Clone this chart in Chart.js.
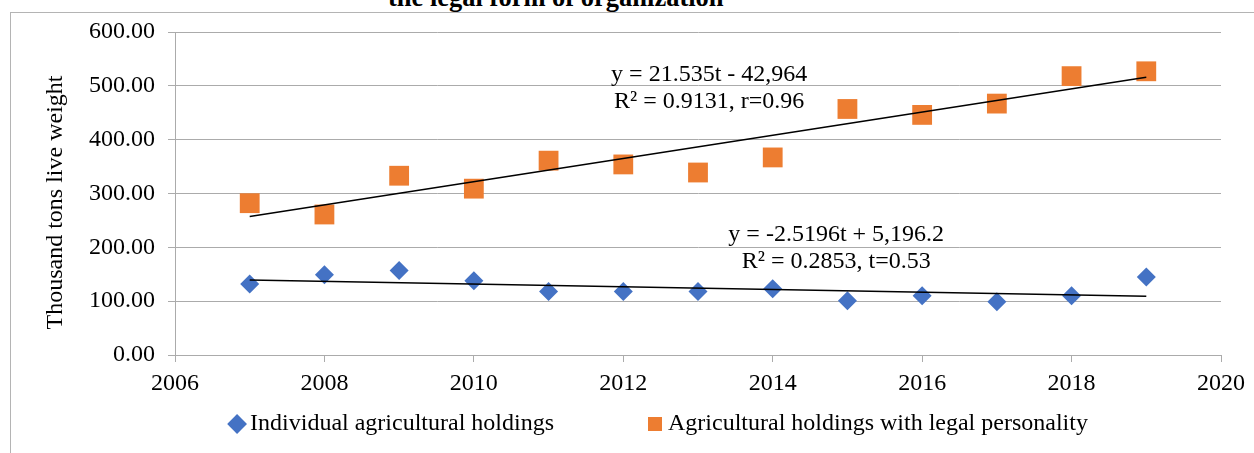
<!DOCTYPE html>
<html>
<head>
<meta charset="utf-8">
<script src="https://cdn.jsdelivr.net/npm/chart.js@4.4.0/dist/chart.umd.min.js"></script>
<style>
  html, body { margin: 0; padding: 0; background: #fff; overflow: hidden; }
  #wrap { position: relative; width: 1254px; height: 453px; overflow: hidden; }
  #frame { position: absolute; left: 10px; top: 12px; width: 1400px; height: 600px; border: 1px solid #b4b4b4; }
  #title { position: absolute; left: 388px; top: -16px; white-space: nowrap;
           font: bold 26.5px "Liberation Serif", "Times New Roman", serif; line-height: 26px; color: #000; }
  #chart { position: absolute; left: 0; top: 0; }
</style>
</head>
<body>
<div id="wrap">
  <div id="frame"></div>
  <div id="title">the legal form of organization</div>
  <canvas id="chart" width="1254" height="453"></canvas>
</div>
<script>
// data
const years = [2007, 2008, 2009, 2010, 2011, 2012, 2013, 2014, 2015, 2016, 2017, 2018, 2019];
const individualHoldings = [132, 149, 157, 138, 118, 118, 118, 123, 101, 110, 99, 110, 145];
const legalHoldings = [282, 261, 333, 309, 361, 354, 339, 367, 457, 446, 467, 518, 527];

// linear trend lines, end points (2007 and 2019)
const trendYears = [2007, 2019];
const individualTrend = [139.4, 109.1];
const legalTrend = [257.4, 515.8];

const xTicks = [2006, 2008, 2010, 2012, 2014, 2016, 2018, 2020];
const yTicks = [0, 100, 200, 300, 400, 500, 600];

const seriesNames = ['Individual agricultural holdings', 'Agricultural holdings with legal personality'];
const yAxisTitle = 'Thousand tons live weight';

const equationLabels = [
  { lines: ['y = 21.535t - 42,964', 'R\u00b2 = 0.9131, r=0.96'], x: 2013.15, y: 520 },
  { lines: ['y = -2.5196t + 5,196.2', 'R\u00b2 = 0.2853, t=0.53'], x: 2014.85, y: 223 }
];

const serif = '"Liberation Serif", "Times New Roman", serif';
const gridColor = '#ababab';
const nbsp = n => '\u00a0'.repeat(n);

function toPoints(xs, ys) {
  return xs.map((x, i) => ({ x: x, y: ys[i] }));
}

// draws the regression equations as text, placed with the chart scales
const equationPlugin = {
  id: 'equations',
  afterDatasetsDraw(chart) {
    const ctx = chart.ctx;
    const xs = chart.scales.x, ys = chart.scales.y;
    ctx.save();
    ctx.font = '24px ' + serif;
    ctx.fillStyle = '#000';
    ctx.textAlign = 'center';
    ctx.textBaseline = 'middle';
    equationLabels.forEach(lbl => {
      const px = xs.getPixelForValue(lbl.x);
      const py = ys.getPixelForValue(lbl.y);
      lbl.lines.forEach((line, i) => ctx.fillText(line, px, py + i * 27));
    });
    ctx.restore();
  }
};

new Chart(document.getElementById('chart'), {
  type: 'scatter',
  data: {
    datasets: [
      {
        label: seriesNames[0],
        data: toPoints(years, individualHoldings),
        pointStyle: 'rectRot',
        pointRadius: 9.5,
        pointHoverRadius: 9.5,
        backgroundColor: '#4472C4',
        borderColor: '#4472C4',
        borderWidth: 0,
        order: 2
      },
      {
        label: seriesNames[1],
        data: toPoints(years, legalHoldings),
        pointStyle: 'rect',
        pointRadius: 14,
        pointHoverRadius: 14,
        backgroundColor: '#ED7D31',
        borderColor: '#ED7D31',
        borderWidth: 0,
        order: 2
      },
      {
        label: 'trend1',
        data: toPoints(trendYears, individualTrend),
        showLine: true,
        pointRadius: 0,
        borderColor: '#000',
        borderWidth: 1.5,
        order: 0
      },
      {
        label: 'trend2',
        data: toPoints(trendYears, legalTrend),
        showLine: true,
        pointRadius: 0,
        borderColor: '#000',
        borderWidth: 1.5,
        order: 0
      }
    ]
  },
  options: {
    responsive: false,
    animation: false,
    layout: { padding: { left: 0, right: 33, top: 32, bottom: 7 } },
    plugins: {
      tooltip: { enabled: false },
      legend: {
        position: 'bottom',
        fullSize: false,
        labels: {
          usePointStyle: true,
          boxWidth: 2,
          boxHeight: 14,
          padding: 10,
          color: '#000',
          font: { family: serif, size: 24 },
          filter: item => item.datasetIndex < 2,
          generateLabels(chart) {
            const items = Chart.defaults.plugins.legend.labels.generateLabels(chart);
            // spacing like the original legend
            items.forEach(it => {
              if (it.datasetIndex === 0) it.text = it.text + nbsp(15);
              if (it.datasetIndex === 1) it.text = it.text + nbsp(12);
            });
            return items;
          }
        }
      }
    },
    scales: {
      x: {
        type: 'linear',
        min: 2006,
        max: 2020,
        afterFit(scale) { scale.height = 47; },
        afterBuildTicks(scale) { scale.ticks = xTicks.map(v => ({ value: v })); },
        grid: { drawOnChartArea: false, drawTicks: true, tickLength: 7, color: gridColor },
        border: { color: gridColor },
        ticks: {
          color: '#000',
          padding: 7,
          maxRotation: 0,
          font: { family: serif, size: 24 },
          callback: v => String(v)
        }
      },
      y: {
        min: 0,
        max: 600,
        afterFit(scale) { scale.width = 175; },
        afterBuildTicks(scale) { scale.ticks = yTicks.map(v => ({ value: v })); },
        grid: { color: gridColor, tickLength: 7 },
        border: { color: gridColor },
        ticks: {
          color: '#000',
          padding: 13,
          font: { family: serif, size: 24 },
          callback: v => Number(v).toFixed(2)
        },
        title: {
          display: true,
          text: yAxisTitle + nbsp(3),
          color: '#000',
          font: { family: serif, size: 24, lineHeight: 1.2 },
          padding: { top: 41, bottom: 0 }
        }
      }
    }
  },
  plugins: [equationPlugin]
});
</script>
</body>
</html>
